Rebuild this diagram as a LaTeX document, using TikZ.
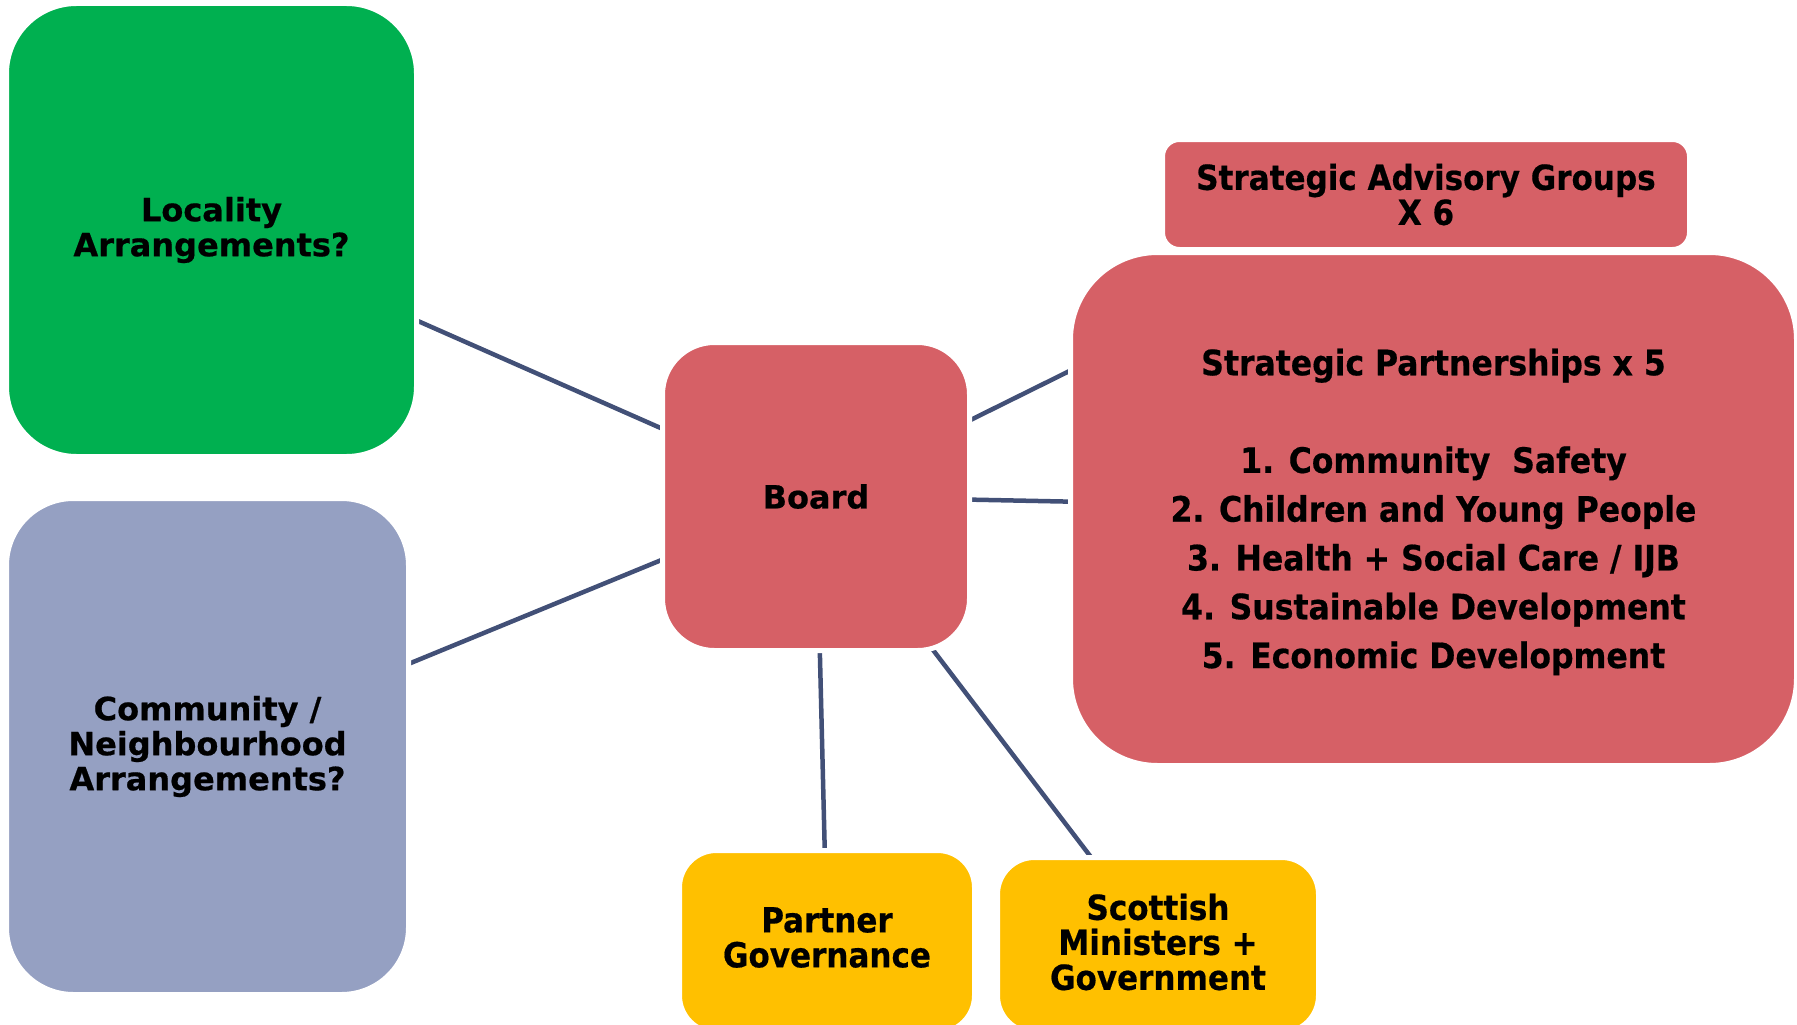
\documentclass[tikz,border=0pt]{standalone}
\usepackage{fontspec}
\setmainfont{DejaVu Sans}[BoldFeatures={FakeBold=0.6}]
\newfontfamily\cond{DejaVu Sans Condensed}[BoldFeatures={FakeBold=0.5}]
\usetikzlibrary{backgrounds}
\definecolor{cgreen}{HTML}{00B050}
\definecolor{cblue}{HTML}{95A0C2}
\definecolor{cred}{HTML}{D66066}
\definecolor{cyellow}{HTML}{FFC000}
\definecolor{cline}{HTML}{425077}
\newcommand{\lowr}[1]{\raisebox{-3pt}[\height][\depth]{#1}}
\tikzset{
  box/.style={draw=white, line width=5pt, align=center, inner sep=0pt, text=black},
  verd/.style={font=\bfseries\fontsize{32}{35}\selectfont},
  tah/.style={font=\cond\bfseries\fontsize{34.5}{35}\selectfont},
  conn/.style={draw=cline, line width=4.5pt}
}
\begin{document}
\begin{tikzpicture}[x=1pt,y=-1pt]
\useasboundingbox (0,0) rectangle (1797,1025);
\node[box, verd, fill=cgreen, rounded corners=70pt, minimum width=410pt, minimum height=453pt] (loc) at (211.5,230) {Locality\\Arrangements?};
\node[box, verd, fill=cblue, rounded corners=67pt, minimum width=402pt, minimum height=496pt] (comm) at (207.5,746.5) {Community /\\Neighbourhood\\Arrangements?};
\node[box, verd, fill=cred, rounded corners=52pt, minimum width=307pt, minimum height=308pt] (board) at (816,496.5) {Board};
\node[box, tah, fill=cred, rounded corners=17pt, minimum width=527pt, minimum height=110pt] (sag) at (1426,194.5) {Strategic Advisory Groups\\X 6};
\node[box, font=\cond\bfseries\fontsize{35}{48.8}\selectfont, fill=cred, rounded corners=87pt, minimum width=726pt, minimum height=513pt] (sp) at (1433.5,509) {\lowr{Strategic Partnerships x 5}\\ \mbox{}\\ \lowr{1. Community\ \ Safety}\\ \lowr{2. Children and Young People}\\ \lowr{3. Health + Social Care / IJB}\\ \lowr{4. Sustainable Development}\\ \lowr{5. Economic Development}};
\node[box, tah, fill=cyellow, rounded corners=37pt, minimum width=295pt, minimum height=182pt] (pg) at (827,941.5) {\raisebox{4pt}[\height][\depth]{Partner}\\\raisebox{4pt}[\height][\depth]{Governance}};
\node[box, tah, fill=cyellow, rounded corners=37pt, minimum width=321pt, minimum height=175pt] (sm) at (1158,945) {\raisebox{3pt}[\height][\depth]{Scottish}\\\raisebox{3pt}[\height][\depth]{Ministers +}\\\raisebox{3pt}[\height][\depth]{Government}};
\begin{pgfonlayer}{background}
\draw[conn] (loc.center) -- (board.center);
\draw[conn] (comm.center) -- (board.center);
\draw[conn] (board.center) -- (sag.center);
\draw[conn] (board.center) -- (sp.center);
\draw[conn] (board.center) -- (pg.center);
\draw[conn] (board.center) -- (sm.center);
\end{pgfonlayer}
\end{tikzpicture}
\end{document}
